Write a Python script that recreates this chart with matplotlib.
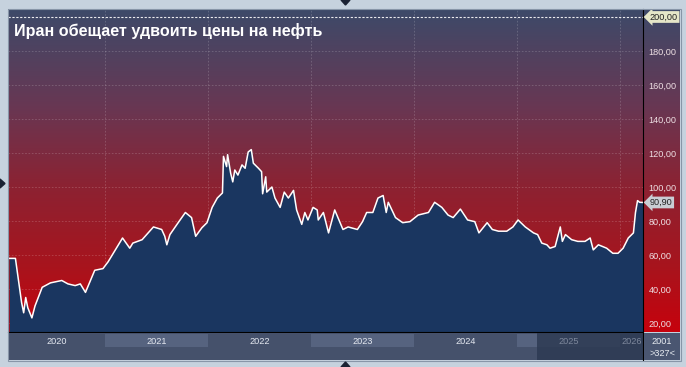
import numpy as np
import matplotlib.pyplot as plt
from matplotlib.colors import LinearSegmentedColormap
from matplotlib.patches import Polygon, Rectangle

title = 'Иран обещает удвоить цены на нефть'

# decimal year / price
years = [2020.07, 2020.13, 2020.19, 2020.21, 2020.23, 2020.25, 2020.29, 2020.32, 2020.39, 2020.47,
         2020.58, 2020.64, 2020.71, 2020.76, 2020.81, 2020.90, 2020.98, 2021.03, 2021.10, 2021.17,
         2021.24, 2021.27, 2021.36, 2021.47, 2021.55, 2021.58, 2021.60, 2021.63, 2021.71, 2021.78,
         2021.84, 2021.88, 2021.94, 2021.99, 2022.04, 2022.09, 2022.14, 2022.15, 2022.18, 2022.19,
         2022.22, 2022.24, 2022.26, 2022.29, 2022.33, 2022.36, 2022.39, 2022.42, 2022.44, 2022.49,
         2022.52, 2022.53, 2022.56, 2022.57, 2022.62, 2022.65, 2022.70, 2022.74, 2022.78, 2022.83,
         2022.86, 2022.91, 2022.94, 2022.97, 2023.02, 2023.06, 2023.07, 2023.12, 2023.17, 2023.23,
         2023.31, 2023.36, 2023.45, 2023.50, 2023.54, 2023.60, 2023.65, 2023.70, 2023.73, 2023.75,
         2023.82, 2023.89, 2023.96, 2024.04, 2024.14, 2024.20, 2024.27, 2024.33, 2024.38, 2024.45,
         2024.52, 2024.59, 2024.63, 2024.71, 2024.76, 2024.82, 2024.90, 2024.96, 2025.01, 2025.08,
         2025.16, 2025.20, 2025.24, 2025.29, 2025.32, 2025.37, 2025.42, 2025.44, 2025.47, 2025.53,
         2025.59, 2025.66, 2025.71, 2025.74, 2025.79, 2025.87, 2025.93, 2025.98, 2026.03, 2026.08,
         2026.13, 2026.15, 2026.17, 2026.19, 2026.22]
price = [58, 58, 32, 26, 35, 29, 23, 30, 41, 43.6,
         45, 43, 42, 43, 38, 51, 52, 56, 63, 70,
         64, 67, 69, 76.5, 75, 71, 66, 72, 79, 85,
         82, 71, 76, 79, 88, 93.5, 96.5, 118, 112, 119,
         108, 103, 110, 107, 113, 111, 120.6, 122, 114, 111,
         109, 96, 106, 97, 100, 93.5, 88, 97, 93.5, 98,
         86.5, 78, 85, 80.6, 88, 86.5, 80.6, 85, 73, 86.5,
         75, 76.5, 75, 79.6, 85, 85, 93.5, 95, 85, 91,
         82, 79, 79.6, 83.5, 85, 91, 88, 83.5, 82, 87,
         80.6, 79.6, 73, 79, 75, 74, 74, 76.5, 80.6, 76.5,
         73, 72, 67, 66, 64, 65, 76.5, 68, 72, 69,
         68, 68, 70, 63, 66, 64, 61, 61, 64, 70,
         73, 85, 92, 91, 90.9]
last_price = 90.90
ytick_vals = [20, 40, 60, 80, 100, 120, 140, 160, 180]
top_level = 200
year_labels = ['2020', '2021', '2022', '2023', '2024', '2025', '2026']
x_start, x_end = 2020.058, 2026.223
window_start = 2025.19

W, H = 686, 367


def box(x0, y0, x1, y1):
    return [x0 / W, 1 - y1 / H, (x1 - x0) / W, (y1 - y0) / H]


def fmt(v):
    return '{:.2f}'.format(v).replace('.', ',')


plt.rcParams['font.family'] = ['Liberation Sans', 'DejaVu Sans']
fig = plt.figure(figsize=(6.86, 3.67), dpi=100, facecolor='#c6d2de')

# background gradient (plot + right scale)
bg = fig.add_axes(box(8, 9, 680, 332))
bg.axis('off')
cmap = LinearSegmentedColormap.from_list('bg', [(0, '#3d4a69'), (0.3, '#683753'), (0.55, '#8c2232'),
                                              (0.8, '#a8141d'), (1, '#c6020d')])
bg.imshow(np.linspace(0, 1, 256).reshape(-1, 1), aspect='auto', cmap=cmap, extent=[0, 1, 0, 1])

ax = fig.add_axes(box(8, 9, 643, 332))
ax.set_facecolor('none')
ax.set_xlim(x_start, x_end)
ax.set_ylim(14.7, 204.7)
for v in ytick_vals:
    ax.axhline(v, color='white', alpha=0.2, lw=0.6, ls=(0, (2, 2)), zorder=0)
for yr in range(2021, 2027):
    ax.axvline(yr, color='white', alpha=0.2, lw=0.6, ls=(0, (2, 2)), zorder=0)
ax.axhline(top_level, color='white', alpha=0.9, lw=0.8, ls=(0, (2, 1.5)), zorder=0)
ax.fill_between(years, price, 0, color='#1a3660', lw=0, zorder=1)
ax.plot(years, price, color='white', lw=1.1, zorder=2)

ax.yaxis.tick_right()
ax.set_yticks(ytick_vals)
ax.set_yticklabels([fmt(v) for v in ytick_vals])
ax.tick_params(axis='y', length=0, pad=4, labelsize=6.6, labelcolor='#eedfe3')
ax.set_xticks([])
for s in ['left', 'top']:
    ax.spines[s].set_visible(False)
ax.spines['right'].set_color('black')
ax.spines['bottom'].set_color('black')

ax.annotate(fmt(top_level), xy=(1, top_level), xycoords=('axes fraction', 'data'),
            xytext=(5, 0), textcoords='offset points', ha='left', va='center', fontsize=6.6,
            color='#222222', bbox=dict(boxstyle='larrow,pad=0.15', fc='#e5e7c8', ec='none'))
ax.annotate(fmt(last_price), xy=(1, last_price), xycoords=('axes fraction', 'data'),
            xytext=(5, 0), textcoords='offset points', ha='left', va='center', fontsize=6.6,
            color='#222222', bbox=dict(boxstyle='larrow,pad=0.15', fc='#c9cdd3', ec='none'))

fig.text(14 / W, 1 - 31 / H, title, color='white', fontsize=11.6, fontweight='bold', va='center')

# year band
bx = fig.add_axes(box(8, 333, 643, 360))
bx.set_facecolor('#45516b')
bx.set_xlim(x_start, x_end)
bx.set_ylim(0, 1)
bx.set_xticks([])
bx.set_yticks([])
for s in ['left', 'top', 'bottom']:
    bx.spines[s].set_visible(False)
bx.spines['right'].set_color('black')
for i, lab in enumerate(year_labels):
    yr = int(lab)
    a, b = max(yr, x_start), min(yr + 1, x_end)
    if yr % 2 == 1:
        bx.axvspan(a, b, 0.48, 0.96, color='#56637f', lw=0)
    c = '#7d879b' if yr >= 2025 else '#e4e8f0'
    bx.text((a + b) / 2, 0.70, lab, ha='center', va='center', fontsize=6.6, color=c, zorder=3)
bx.axvspan(window_start, x_end, color='#2d3a53', alpha=0.85, lw=0, zorder=2)

cx = fig.add_axes(box(644, 333, 680, 360))
cx.set_facecolor('#4a5671')
cx.set_xticks([])
cx.set_yticks([])
for s in cx.spines.values():
    s.set_visible(False)
cx.text(0.5, 0.70, '2001', ha='center', va='center', fontsize=6.6, color='#e8ecf2')
cx.text(0.5, 0.25, '>327<', ha='center', va='center', fontsize=6.6, color='#e8ecf2')

# frame and little arrows
ov = fig.add_axes([0, 0, 1, 1])
ov.set_xlim(0, W)
ov.set_ylim(H, 0)
ov.axis('off')
ov.set_facecolor('none')
ov.add_patch(Rectangle((7.5, 8.5), 673, 352, fill=False, ec='#8896a8', lw=0.8))
ov.add_patch(Polygon([(341, 0), (350, 0), (345.5, 5)], color='#1a2233'))
ov.add_patch(Polygon([(0, 179), (0, 188), (5, 183.5)], color='#1a2233'))
ov.add_patch(Polygon([(341, 367), (350, 367), (345.5, 362)], color='#1a2233'))

fig.savefig('out.png', dpi=100, facecolor=fig.get_facecolor())
